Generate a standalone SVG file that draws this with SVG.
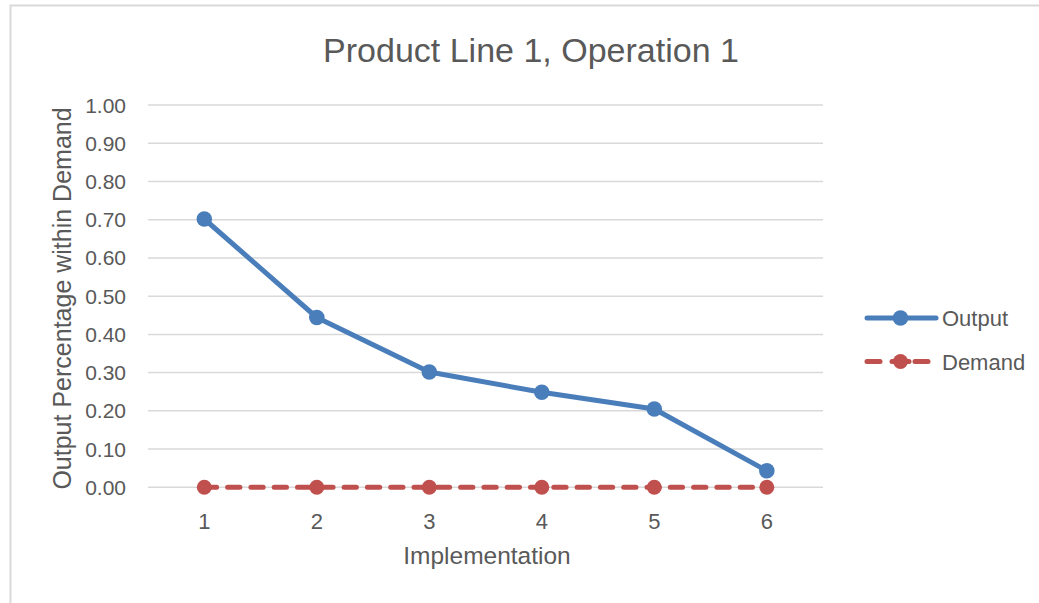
<svg xmlns="http://www.w3.org/2000/svg" width="1039" height="603" viewBox="0 0 1039 603">
<style>
text{font-family:"Liberation Sans",Arial,sans-serif;fill:#595959}
.grid{stroke:#d9d9d9;stroke-width:1.5;fill:none}
.tick{font-size:21px;text-anchor:end}
.cat{font-size:22px;text-anchor:middle}
.out{stroke:#4a7ebb;stroke-width:5;fill:none;stroke-linejoin:round;stroke-linecap:round}
.dem{stroke:#c0504d;stroke-width:5;fill:none;stroke-dasharray:12.3 11;stroke-linecap:round}
.mo{fill:#4a7ebb}
.md{fill:#c0504d}
</style>
<rect x="0" y="0" width="1039" height="603" fill="#ffffff"/>
<path d="M10.5,603 V5.5 H1039" fill="none" stroke="#d9d9d9" stroke-width="2"/>
<g id="title"><text x="531" y="62" font-size="34" text-anchor="middle">Product Line 1, Operation 1</text></g>
<g id="gridlines">
<line class="grid" x1="148" y1="105" x2="823" y2="105"/>
<line class="grid" x1="148" y1="143.2" x2="823" y2="143.2"/>
<line class="grid" x1="148" y1="181.5" x2="823" y2="181.5"/>
<line class="grid" x1="148" y1="219.7" x2="823" y2="219.7"/>
<line class="grid" x1="148" y1="257.9" x2="823" y2="257.9"/>
<line class="grid" x1="148" y1="296.2" x2="823" y2="296.2"/>
<line class="grid" x1="148" y1="334.4" x2="823" y2="334.4"/>
<line class="grid" x1="148" y1="372.6" x2="823" y2="372.6"/>
<line class="grid" x1="148" y1="410.8" x2="823" y2="410.8"/>
<line class="grid" x1="148" y1="449.1" x2="823" y2="449.1"/>
<line class="grid" x1="148" y1="487.3" x2="823" y2="487.3"/>
</g>
<g id="y-axis">
<text class="tick" x="126" y="112.5">1.00</text>
<text class="tick" x="126" y="150.7">0.90</text>
<text class="tick" x="126" y="189">0.80</text>
<text class="tick" x="126" y="227.2">0.70</text>
<text class="tick" x="126" y="265.4">0.60</text>
<text class="tick" x="126" y="303.7">0.50</text>
<text class="tick" x="126" y="341.9">0.40</text>
<text class="tick" x="126" y="380.1">0.30</text>
<text class="tick" x="126" y="418.3">0.20</text>
<text class="tick" x="126" y="456.6">0.10</text>
<text class="tick" x="126" y="494.8">0.00</text>
<text x="71" y="298.5" font-size="25" text-anchor="middle" transform="rotate(-90 71 298.5)">Output Percentage within Demand</text>
</g>
<g id="x-axis">
<text class="cat" x="204.3" y="529">1</text>
<text class="cat" x="316.8" y="529">2</text>
<text class="cat" x="429.3" y="529">3</text>
<text class="cat" x="541.8" y="529">4</text>
<text class="cat" x="654.3" y="529">5</text>
<text class="cat" x="766.8" y="529">6</text>
<text x="487" y="564" font-size="24.5" text-anchor="middle">Implementation</text>
</g>
<g id="connectors">
<polyline id="demand-line" class="dem" points="204.3,487.3 316.8,487.3 429.3,487.3 541.8,487.3 654.3,487.3 766.8,487.3"/>
<polyline id="output-line" class="out" points="204.3,219 316.8,317.5 429.3,372 541.8,392.3 654.3,409 766.8,470.8"/>
</g>
<g id="demand-markers">
<circle class="md" cx="204.3" cy="487.3" r="7.5"/>
<circle class="md" cx="316.8" cy="487.3" r="7.5"/>
<circle class="md" cx="429.3" cy="487.3" r="7.5"/>
<circle class="md" cx="541.8" cy="487.3" r="7.5"/>
<circle class="md" cx="654.3" cy="487.3" r="7.5"/>
<circle class="md" cx="766.8" cy="487.3" r="7.5"/>
</g>
<g id="output-markers">
<circle class="mo" cx="204.3" cy="219" r="7.8"/>
<circle class="mo" cx="316.8" cy="317.5" r="7.8"/>
<circle class="mo" cx="429.3" cy="372" r="7.8"/>
<circle class="mo" cx="541.8" cy="392.3" r="7.8"/>
<circle class="mo" cx="654.3" cy="409" r="7.8"/>
<circle class="mo" cx="766.8" cy="470.8" r="7.8"/>
</g>
<g id="legend">
<g id="legend-output">
<line class="out" x1="867" y1="318" x2="936" y2="318"/>
<circle class="mo" cx="900.5" cy="318" r="7.8"/>
<text x="942" y="325.5" font-size="22">Output</text>
</g>
<g id="legend-demand">
<line x1="867" y1="361.5" x2="880" y2="361.5" stroke="#c0504d" stroke-width="5" stroke-linecap="round"/>
<line x1="892" y1="361.5" x2="909" y2="361.5" stroke="#c0504d" stroke-width="5" stroke-linecap="round"/>
<line x1="915" y1="361.5" x2="928" y2="361.5" stroke="#c0504d" stroke-width="5" stroke-linecap="round"/>
<circle class="md" cx="900.5" cy="361.5" r="7.5"/>
<text x="942" y="369.5" font-size="22">Demand</text>
</g>
</g>
</svg>
